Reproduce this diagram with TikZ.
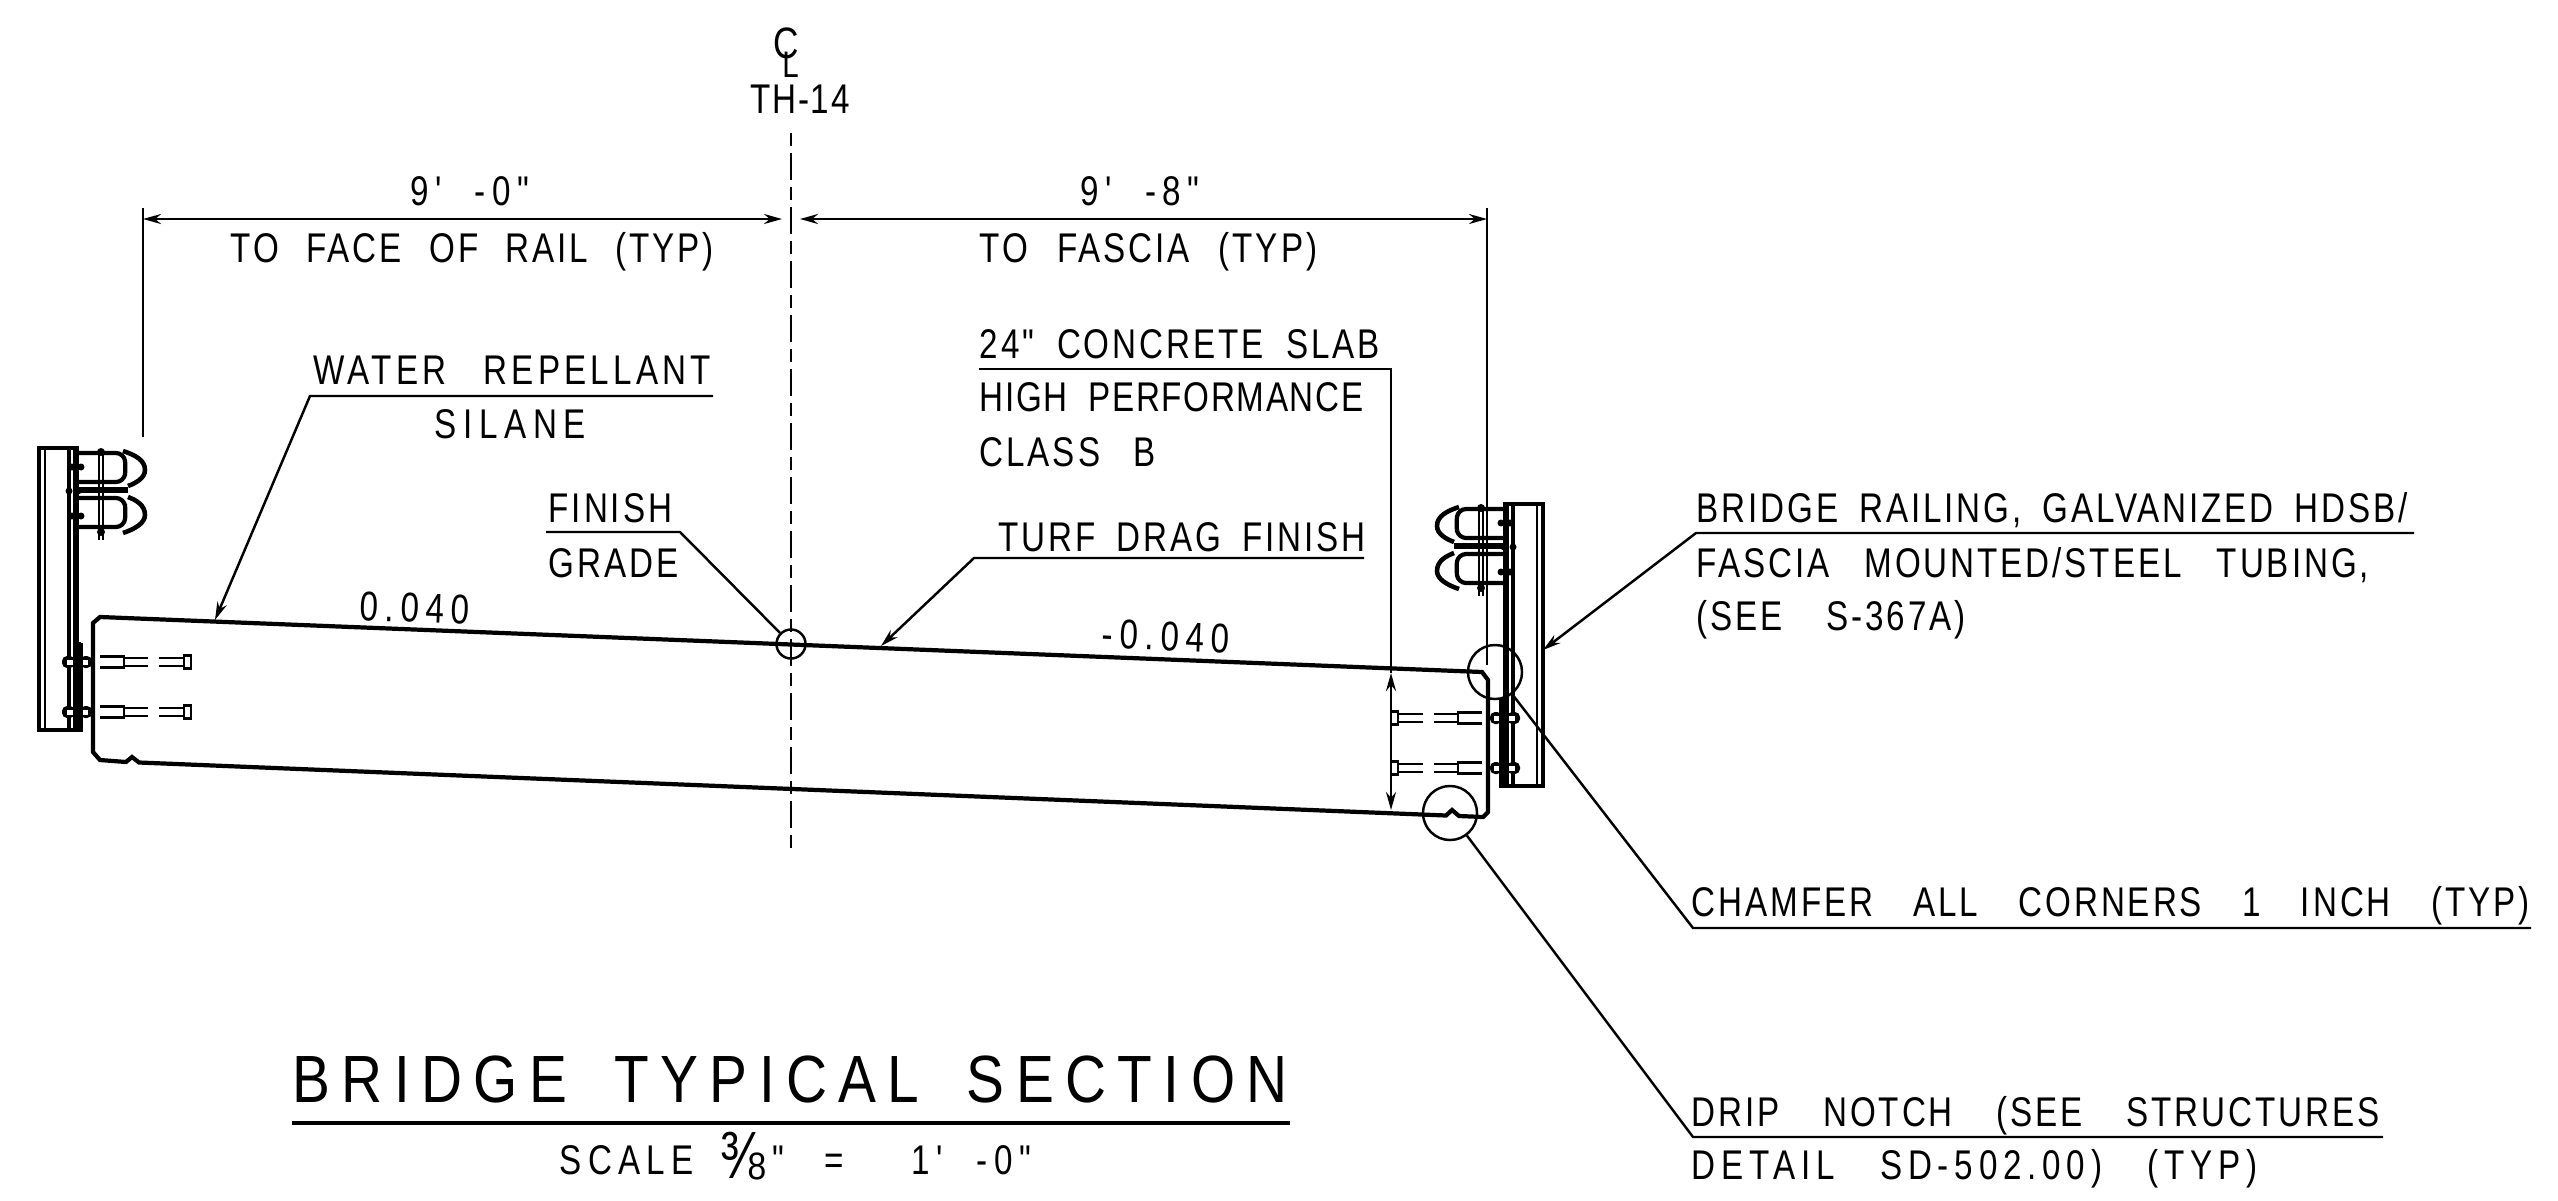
\documentclass[tikz,border=0pt]{standalone}
\usepackage{fontspec}
\usetikzlibrary{arrows.meta}
\newfontfamily\cadfont{Liberation Sans}[FakeStretch=0.8,LetterSpace=7]
\newfontfamily\cadtitle{Liberation Sans}[FakeStretch=0.85,LetterSpace=17]
\tikzset{
	lbl/.style={anchor=base west,inner sep=0pt,font=\cadfont\fontsize{11.8}{13}\selectfont},
	lblc/.style={lbl,anchor=base},
	tune/.style 2 args={execute at begin node={\addfontfeature{LetterSpace=#2}\spaceskip=#1em\relax}},
	thin line/.style={line width=0.7pt},
	heavy line/.style={line width=1.2pt},
	ring/.style={circle,draw,line width=0.7pt,inner sep=0pt},
	rail/.pic={
		\draw [heavy line] (39,448) rectangle (77,730);
		\draw [thin line] (45,448) -- (45,730);
		\draw [heavy line] (69,448) -- (69,730);
		\draw [thin line] (74,448) -- (74,730);
		\draw [heavy line] (81,643) -- (81,730) -- (77,730);
		\draw [thin line] (77,643) -- (81,643);
		% tubes
		\draw [heavy line,rounded corners=0.8mm] (78,453) -- (124,453) -- (126,468) -- (124,482) -- (78,482);
		\draw [heavy line,rounded corners=0.8mm] (78,527) -- (124,527) -- (126,512) -- (124,498) -- (78,498);
		\draw [line width=1.7pt] (78,490) -- (128,490);
		\draw [line width=1.3pt] (123,451) .. controls (135,455) and (145,460) .. (145,470) .. controls (145,478) and (136,483) .. (128,486);
		\draw [line width=1.3pt] (128,497) .. controls (136,500) and (145,505) .. (145,515) .. controls (145,523) and (135,529) .. (123,533);
		\draw [thin line] (99,450) -- (99,540);
		\draw [thin line] (103,450) -- (103,540);
		\fill (101,452) circle (4);
		\fill (101,532) circle (4);
		\foreach \y/\x in {467/72,491/69,516/72} {
			\fill (\x,\y) circle (3.5);
			\fill (\x+9,\y) circle (3.5);
		}
		% anchors
		\foreach \y in {662,712} {
			\fill [rounded corners=0.5mm] (62,\y-6) rectangle (75,\y+6);
			\fill [rounded corners=0.5mm] (80,\y-6) rectangle (92,\y+6);
			\fill [white] (67,\y-2.5) rectangle (73,\y+2.5);
			\fill [white] (83,\y-2.5) rectangle (88,\y+2.5);
			\draw [thin line] (100,\y-5.5) -- (124,\y-5.5) -- (124,\y+5.5) -- (100,\y+5.5);
			\draw [thin line] (124,\y-4) -- (148,\y-4);
			\draw [thin line] (124,\y+4) -- (148,\y+4);
			\draw [thin line] (159,\y-4) -- (184,\y-4);
			\draw [thin line] (159,\y+4) -- (184,\y+4);
			\draw [thin line] (184,\y-6.5) rectangle (191,\y+6.5);
		}
	}
}
\begin{document}
\begin{tikzpicture}[x=0.01cm,y=-0.01cm,>={Stealth[length=1.8mm,width=1mm]}]
	\useasboundingbox (0,0) rectangle (2558,1200);
	% centre line and dimensions
	\coordinate (clTop) at (791,133);
	\coordinate (clBot) at (791,852);
	\draw [thin line,dash pattern=on 0.13cm off 0.07cm on 0.27cm off 0.07cm] (clTop) -- (clBot);
	\node [lbl,font=\cadfont\fontsize{12.5}{13}\selectfont] (clMark) at (773,58) {C\kern-0.38em\raisebox{-0.45em}{\fontsize{10.5}{13}\selectfont L}};
	\node [lbl,tune={0.3}{4}] (clName) at (750,113) {TH-14};
	\coordinate (faceA) at (143,208);
	\coordinate (faceB) at (143,437);
	\coordinate (fasciaA) at (1487,208);
	\coordinate (fasciaB) at (1487,665);
	\draw [thin line] (faceA) -- (faceB);
	\draw [thin line] (fasciaA) -- (fasciaB);
	\coordinate (dimA) at (143,219);
	\coordinate (dimB) at (782,219);
	\coordinate (dimC) at (800,219);
	\coordinate (dimD) at (1487,219);
	\draw [thin line,<->] (dimA) -- (dimB);
	\draw [thin line,<->] (dimC) -- (dimD);
	\node [lblc,tune={0.8}{16}] (dimLeft) at (470,205) {9' -0"};
	\node [lbl,tune={0.66}{7}] (faceRail) at (230,262) {TO FACE OF RAIL (TYP)};
	\node [lblc,tune={0.8}{16}] (dimRight) at (1140,205) {9' -8"};
	\node [lbl,tune={0.70}{7}] (toFascia) at (979,262) {TO FASCIA (TYP)};
	% slab
	\draw [heavy line] (100,617) -- (1482,672) -- (1488,680) -- (1488,812) -- (1483,817) -- (1459,816) -- (1452,810) -- (1446,815.5) -- (139,762.5) -- (132,757) -- (126,762) -- (100,760) -- (93,752) -- (93,623) -- cycle;
	\pic {rail};
	\pic [xscale=-1] at (1582,56) {rail};
	\node [lbl,rotate=-2.3,tune={0.3}{16}] (slopeLeft) at (359,620) {0.040};
	\node [lbl,rotate=-2.3,tune={0.3}{16}] (slopeRight) at (1101,648) {-0.040};
	% rings
	\node [ring,minimum size=0.29cm] (gradeRing) at (791,644) {};
	\node [ring,minimum size=0.54cm] (chamferRing) at (1495,672) {};
	\node [ring,minimum size=0.54cm] (dripRing) at (1450,813) {};
	% water repellant
	\node [lbl,tune={0.9}{10}] (water) at (313,384) {WATER REPELLANT};
	\node [lbl,tune={0.3}{16}] (silane) at (434,438) {SILANE};
	\coordinate (waterA) at (713,396);
	\coordinate (waterB) at (310,396);
	\coordinate (waterTip) at (215,620);
	\draw [thin line,->] (waterA) -- (waterB) -- (waterTip);
	% finish grade
	\node [lbl] (finish) at (548,522) {FINISH};
	\node [lbl] (grade) at (548,577) {GRADE};
	\coordinate (gradeA) at (546,532);
	\coordinate (gradeB) at (680,532);
	\draw [thin line] (gradeA) -- (gradeB) -- (gradeRing);
	% slab note
	\node [lbl,tune={0.55}{7}] (slabOne) at (979,358) {24" CONCRETE SLAB};
	\node [lbl,tune={0.5}{4}] (slabTwo) at (979,411) {HIGH PERFORMANCE};
	\node [lbl,tune={0.8}{7}] (slabThree) at (979,466) {CLASS B};
	\coordinate (slabA) at (979,369);
	\coordinate (slabB) at (1391,369);
	\coordinate (depthTop) at (1391,673);
	\coordinate (depthBot) at (1391,810);
	\draw [thin line] (slabA) -- (slabB) -- (depthTop);
	\draw [thin line,<->] (depthTop) -- (depthBot);
	% turf drag
	\node [lbl,tune={0.5}{7}] (turf) at (998,551) {TURF DRAG FINISH};
	\coordinate (turfA) at (1364,558);
	\coordinate (turfB) at (974,558);
	\coordinate (turfTip) at (881,646);
	\draw [thin line,->] (turfA) -- (turfB) -- (turfTip);
	% railing note
	\node [lbl,tune={0.5}{7}] (railOne) at (1696,522) {BRIDGE RAILING, GALVANIZED HDSB/};
	\node [lbl,tune={0.85}{7}] (railTwo) at (1696,577) {FASCIA MOUNTED/STEEL TUBING,};
	\node [lbl,tune={1.05}{7}] (railThree) at (1696,630) {(SEE S-367A)};
	\coordinate (railA) at (2414,533);
	\coordinate (railB) at (1696,533);
	\coordinate (railTip) at (1543,650);
	\draw [thin line,->] (railA) -- (railB) -- (railTip);
	% chamfer and drip
	\node [lbl,tune={0.97}{7}] (chamfer) at (1691,916) {CHAMFER ALL CORNERS 1 INCH (TYP)};
	\coordinate (chamferA) at (2531,928);
	\coordinate (chamferB) at (1693,928);
	\draw [thin line] (chamferA) -- (chamferB) -- (chamferRing);
	\node [lbl,tune={1.05}{7}] (dripOne) at (1691,1126) {DRIP NOTCH (SEE STRUCTURES};
	\node [lbl,tune={1.1}{14}] (dripTwo) at (1691,1179) {DETAIL SD-502.00) (TYP)};
	\coordinate (dripA) at (2383,1137);
	\coordinate (dripB) at (1693,1137);
	\draw [thin line] (dripA) -- (dripB) -- (dripRing);
	% title
	\node [lbl,font=\cadtitle\fontsize{19}{22}\selectfont,execute at begin node={\spaceskip=0.71em\relax}] (title) at (292,1102) {BRIDGE TYPICAL SECTION};
	\coordinate (titleA) at (292,1123);
	\coordinate (titleB) at (1290,1123);
	\draw [line width=1.4pt] (titleA) -- (titleB);
	\node [lbl,tune={0.3}{15}] (scale) at (559,1174) {SCALE};
	\node [lbl,font=\cadfont\fontsize{19}{20}\selectfont] (scaleFrac) at (720,1178) {⅜};
	\node [lbl] (scaleInch) at (772,1174) {"};
	\node [lbl] (scaleEq) at (824,1174) {=};
	\node [lbl,tune={0.8}{16}] (scaleFoot) at (911,1174) {1' -0"};
\end{tikzpicture}
\end{document}
